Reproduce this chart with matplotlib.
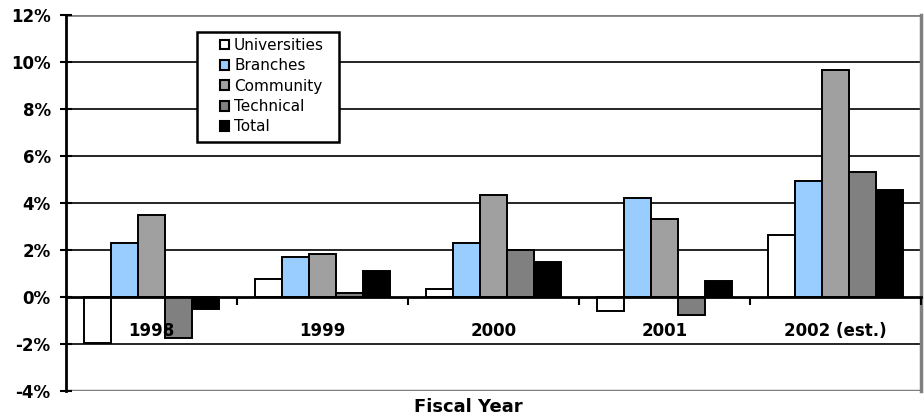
import matplotlib
matplotlib.use("Agg")
import matplotlib.pyplot as plt
import numpy as np
from matplotlib.patches import Patch, Rectangle

plt.rcParams['font.family'] = ['DejaVu Sans']

categories = ["1998", "1999", "2000", "2001", "2002 (est.)"]
series_names = ["Universities", "Branches", "Community", "Technical", "Total"]
universities = [-1.95, 0.75, 0.35, -0.6, 2.65]
branches = [2.3, 1.7, 2.3, 4.2, 4.95]
community = [3.5, 1.85, 4.35, 3.3, 9.65]
technical = [-1.75, 0.15, 2.0, -0.75, 5.3]
total = [-0.5, 1.1, 1.5, 0.7, 4.55]
yticks = [-4, -2, 0, 2, 4, 6, 8, 10, 12]
ytick_labels = ["-4%", "-2%", "0%", "2%", "4%", "6%", "8%", "10%", "12%"]
colors = ["#FFFFFF", "#99CCFF", "#A0A0A0", "#808080", "#000000"]

W, H = 924, 419
fig = plt.figure(figsize=(W / 100, H / 100), dpi=100)
ax = fig.add_axes([66 / W, (H - 391) / H, (921 - 66) / W, (391 - 15) / H])

data = [universities, branches, community, technical, total]
n = len(series_names)
x = np.arange(len(categories))
bw = 1 / (n + 1.33)
for i, (vals, c) in enumerate(zip(data, colors)):
    ax.bar(x + (i - (n - 1) / 2) * bw, vals, width=bw, color=c,
           edgecolor="black", linewidth=1.4, zorder=3)

ax.set_xlim(-0.5, len(categories) - 0.5)
ax.set_ylim(-4, 12)

# gridlines
for yv in yticks:
    if yv in (-4, 12, 0):
        continue
    ax.axhline(yv, color="black", linewidth=1.2, zorder=1)
ax.axhline(12, color="#808080", linewidth=2, zorder=1)
ax.axhline(-4, color="#808080", linewidth=2.5, zorder=1)

ax.set_yticks(yticks)
ax.set_yticklabels(ytick_labels, fontsize=12, fontweight="bold")
ax.tick_params(axis="y", direction="inout", length=8, width=1.5, pad=7)

# x axis at zero
ax.spines["bottom"].set_position(("data", 0))
ax.spines["bottom"].set_linewidth(2)
ax.spines["bottom"].set_zorder(4)
ax.spines["left"].set_linewidth(2)
ax.spines["top"].set_visible(False)
ax.spines["right"].set_color("#808080")
ax.spines["right"].set_linewidth(2.5)
ax.set_xticks(x)
ax.set_xticklabels(categories, fontsize=12, fontweight="bold")
ax.tick_params(axis="x", which="major", length=0, pad=18)
ax.set_xticks(np.arange(len(categories)) + 0.5, minor=True)
ax.tick_params(axis="x", which="minor", direction="out", length=6, width=1.5)
ax.xaxis.set_zorder(5)

fig.text(468 / W, 1 - 407 / H, "Fiscal Year", ha="center", va="center",
         fontsize=13, fontweight="bold")

# legend box
fig.patches.append(Rectangle((197 / W, 1 - 142 / H), (339 - 197) / W, (142 - 32) / H,
                             transform=fig.transFigure, facecolor="white",
                             edgecolor="black", linewidth=1.8, zorder=9))
handles = [Patch(facecolor=c, edgecolor="black", linewidth=1.5) for c in colors]
leg = fig.legend(handles, series_names, loc="upper left",
                 bbox_to_anchor=(219.5 / W, 1 - 38 / H), fontsize=11,
                 frameon=False, handlelength=0.6, handleheight=0.6,
                 handletextpad=0.35, labelspacing=0.35, borderpad=0, borderaxespad=0)
leg.set_zorder(10)

fig.savefig("out.png", dpi=100)
